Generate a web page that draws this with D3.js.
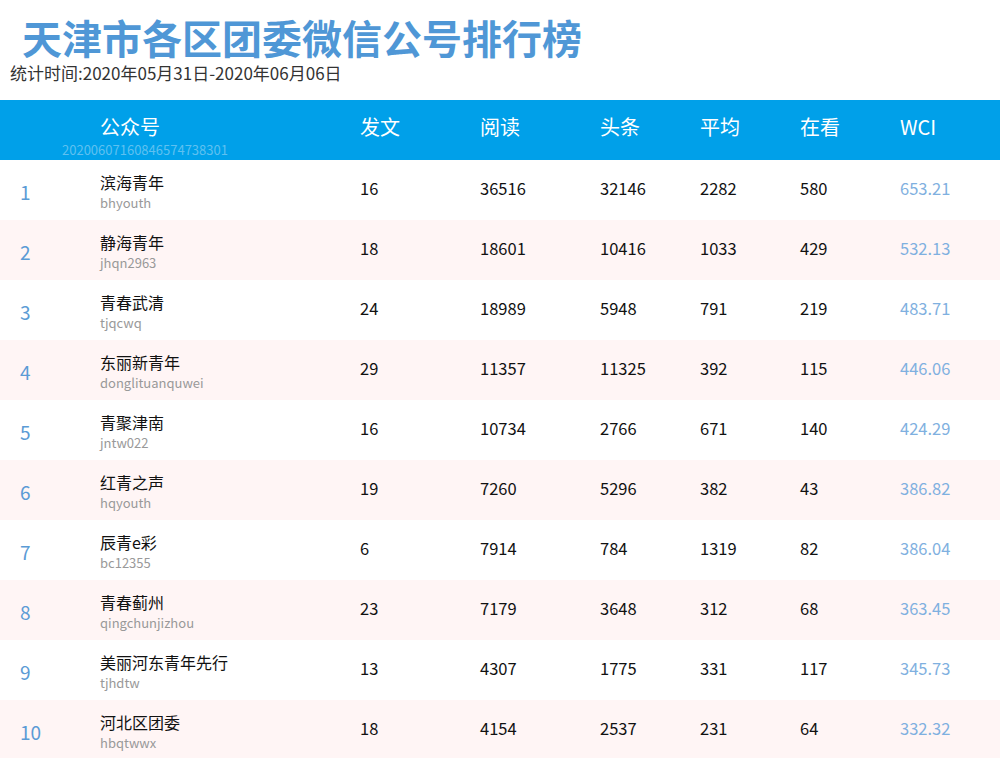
<!DOCTYPE html>
<html><head><meta charset="utf-8">
<script src="https://cdn.jsdelivr.net/npm/d3@7"></script>
<style>body{margin:0;background:#fff}svg{display:block;font-family:"Noto Sans CJK SC","Noto Sans",sans-serif}</style>
</head><body>
<script>
var ranks = [1, 2, 3, 4, 5, 6, 7, 8, 9, 10];
var names = ['滨海青年', '静海青年', '青春武清', '东丽新青年', '青聚津南', '红青之声', '辰青e彩', '青春蓟州', '美丽河东青年先行', '河北区团委'];
var ids = ['bhyouth', 'jhqn2963', 'tjqcwq', 'donglituanquwei', 'jntw022', 'hqyouth', 'bc12355', 'qingchunjizhou', 'tjhdtw', 'hbqtwwx'];
var posts = [16, 18, 24, 29, 16, 19, 6, 23, 13, 18];
var reads = [36516, 18601, 18989, 11357, 10734, 7260, 7914, 7179, 4307, 4154];
var heads = [32146, 10416, 5948, 11325, 2766, 5296, 784, 3648, 1775, 2537];
var avgs = [2282, 1033, 791, 392, 671, 382, 1319, 312, 331, 231];
var looks = [580, 429, 219, 115, 140, 43, 82, 68, 117, 64];
var wci = ['653.21', '532.13', '483.71', '446.06', '424.29', '386.82', '386.04', '363.45', '345.73', '332.32'];
var headers = ['公众号', '发文', '阅读', '头条', '平均', '在看', 'WCI'];
var colX = [100, 360, 480, 600, 700, 800, 900];

var svg = d3.select('body').append('svg').attr('width', 1000).attr('height', 758);

svg.append('text').attr('x', 22).attr('y', 54).attr('font-size', 40).attr('font-weight', 'bold')
    .attr('fill', '#4f97d6').text('天津市各区团委微信公号排行榜');
svg.append('text').attr('x', 10).attr('y', 80).attr('font-size', 17).attr('fill', '#333')
    .text('统计时间:2020年05月31日-2020年06月06日');

// header band
svg.append('rect').attr('x', 0).attr('y', 100).attr('width', 1000).attr('height', 60).attr('fill', '#00a0e9');
headers.forEach(function(h, i) {
    svg.append('text').attr('x', colX[i]).attr('y', 135).attr('font-size', 20).attr('fill', '#fff').text(h);
});
svg.append('text').attr('x', 62).attr('y', 155).attr('font-size', 13).attr('fill', '#5fc0f0')
    .text('20200607160846574738301');

var y = d3.scaleBand().domain(ranks).range([160, 760]);

var rows = svg.selectAll('g.row').data(ranks).enter().append('g').attr('class', 'row')
    .attr('transform', function(d) { return 'translate(0,' + y(d) + ')'; });

rows.append('rect').attr('width', 1000).attr('height', y.bandwidth())
    .attr('fill', function(d) { return d % 2 === 0 ? '#fff5f5' : '#fff'; });
rows.append('text').attr('x', 20).attr('y', 40).attr('font-size', 19).attr('fill', '#5b9bd5')
    .text(function(d) { return d; });
rows.append('text').attr('x', 100).attr('y', 29).attr('font-size', 16).attr('fill', '#111')
    .text(function(d, i) { return names[i]; });
rows.append('text').attr('x', 100).attr('y', 48).attr('font-size', 13).attr('fill', '#999')
    .text(function(d, i) { return ids[i]; });

var cols = [posts, reads, heads, avgs, looks];
cols.forEach(function(arr, c) {
    rows.append('text').attr('x', colX[c + 1]).attr('y', 35).attr('font-size', 16.5).attr('fill', '#111')
        .text(function(d, i) { return arr[i]; });
});
rows.append('text').attr('x', 900).attr('y', 35).attr('font-size', 16.5).attr('fill', '#7fb0e0')
    .text(function(d, i) { return wci[i]; });
</script>
</body></html>
